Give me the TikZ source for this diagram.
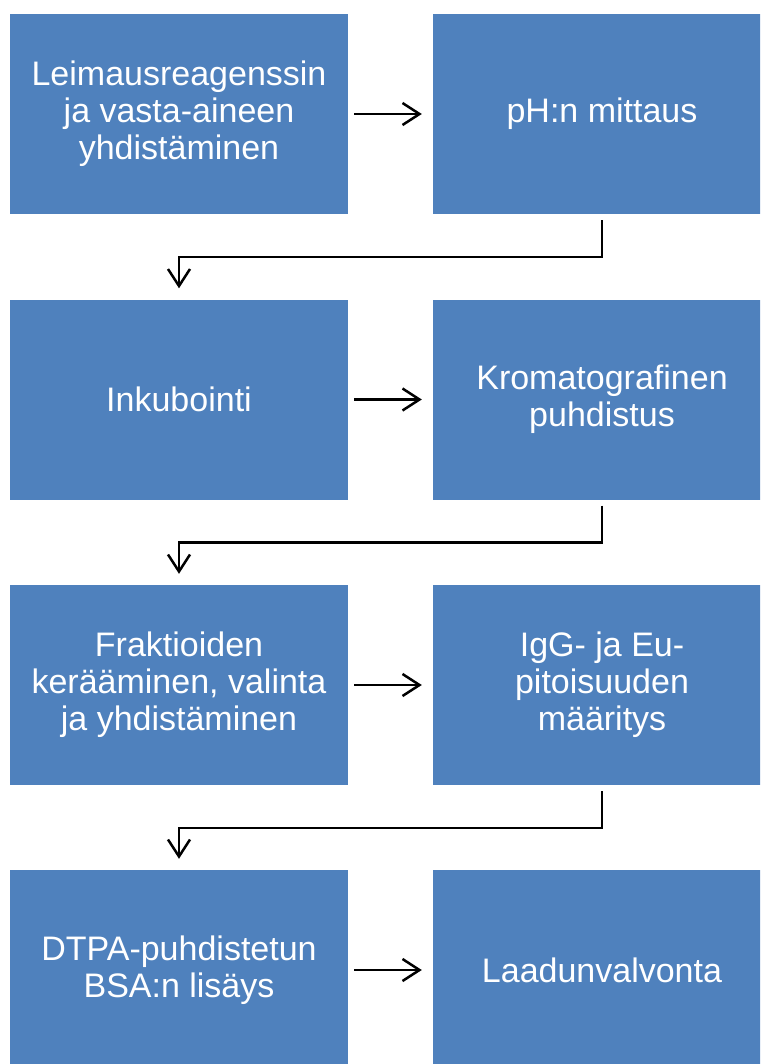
\documentclass[tikz,border=0pt]{standalone}
\usepackage{fontspec}
\setmainfont{Liberation Sans}
\usetikzlibrary{arrows.meta}
\definecolor{boxblue}{HTML}{4F81BD}
\tikzset{
  stepbox/.style={rectangle, fill=boxblue, draw=none, minimum width=338pt, minimum height=200pt,
    align=center, inner sep=0pt, text=white,
    font=\fontsize{34pt}{37pt}\selectfont},
  arr/.style={draw=black, line width=2.5pt, -{Straight Barb[length=17pt,width=22pt,line width=2.5pt]}}
}
\begin{document}
\begin{tikzpicture}[x=1pt,y=1pt]
\useasboundingbox (0,0) rectangle (760,-1064);
\clip (0,0) rectangle (760,-1064);
\node[stepbox] (a1) at (179,-114) {Leimausreagenssin\\ja vasta-aineen\\yhdistäminen};
\node[stepbox] (b1) at (602,-114) {pH:n mittaus};
\node[stepbox] (a2) at (179,-399.5) {Inkubointi};
\node[stepbox] (b2) at (602,-399.5) {Kromatografinen\\puhdistus};
\node[stepbox] (a3) at (179,-685) {Fraktioiden\\kerääminen, valinta\\ja yhdistäminen};
\node[stepbox] (b3) at (602,-685) {IgG- ja Eu-\\pitoisuuden\\määritys};
\node[stepbox] (a4) at (179,-970) {DTPA-puhdistetun\\BSA:n lisäys};
\node[stepbox] (b4) at (602,-970) {Laadunvalvonta};
\foreach \r in {1,2,3,4}{
  \draw[arr] ([xshift=6pt]a\r.east) -- ([xshift=-11pt]b\r.west);
}
\foreach \r/\n in {1/2,2/3,3/4}{
  \draw[arr] ([yshift=-6pt]b\r.south) -- ++(0,-37) -| ([yshift=11pt]a\n.north);
}
\end{tikzpicture}
\end{document}
